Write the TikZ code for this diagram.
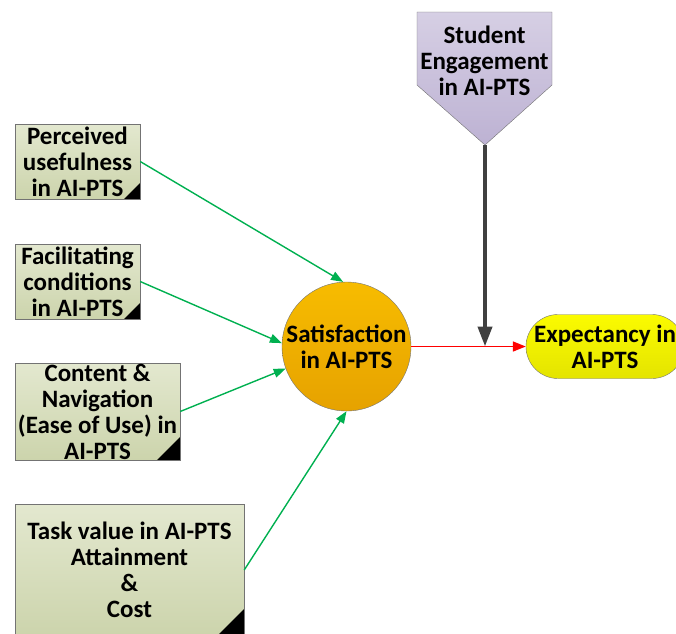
\documentclass[tikz,border=0pt]{standalone}
\usepackage{fontspec}
\setmainfont{Carlito}
\usetikzlibrary{arrows.meta}
\definecolor{boxtop}{HTML}{E3E8CF}
\definecolor{boxbot}{HTML}{CCD4AC}
\definecolor{sattop}{HTML}{F7BC00}
\definecolor{satbot}{HTML}{E6A200}
\definecolor{exptop}{HTML}{FBFB00}
\definecolor{expbot}{HTML}{E4E400}
\definecolor{engtop}{HTML}{D6CFE4}
\definecolor{engbot}{HTML}{BDB2D3}
\definecolor{linkgreen}{HTML}{00B050}
\begin{document}
\begin{tikzpicture}[x=1pt,y=-1pt,
    font=\fontsize{25}{26}\selectfont\bfseries,
    factor/.style={draw=black!55,top color=boxtop,bottom color=boxbot,align=center,inner sep=0pt,
      path picture={\fill (path picture bounding box.south east) -- ++(-#1,0pt) -- ++(#1,#1) -- cycle;}},
    link/.style={-{Triangle[length=12pt,width=9pt]},draw=linkgreen,line width=1.4pt},
    result/.style={-{Triangle[length=13pt,width=10pt]},draw=red,line width=1.6pt},
    push/.style={-{Triangle[length=20pt,width=14pt]},draw=black!75,line width=4pt}]
  \useasboundingbox (0,0) rectangle (676,633);
  % predictors
  \node[factor=16pt,minimum width=125pt,minimum height=75pt] (useful) at (77.5,161.5) {Perceived\\usefulness\\in AI-PTS};
  \node[factor=16pt,minimum width=125pt,minimum height=75pt] (facil) at (77.5,281.5) {Facilitating\\conditions\\in AI-PTS};
  \node[factor=23pt,minimum width=165pt,minimum height=97pt] (content) at (97.5,411.5) {Content \&\\Navigation\\(Ease of Use) in\\AI-PTS};
  \node[factor=27pt,minimum width=229pt,minimum height=132pt] (task) at (129.5,570) {Task value in AI-PTS\\Attainment\\\&\\Cost};
  % mediator and outcome
  \node[circle,draw=black!55,top color=sattop,bottom color=satbot,minimum size=129pt,inner sep=0pt,align=center] (satis) at (346.5,346.5) {Satisfaction\\in AI-PTS};
  \node[rounded corners=32pt,draw=black!55,top color=exptop,bottom color=expbot,minimum width=158pt,minimum height=64pt,align=center] (expect) at (605,346.5) {Expectancy in\\AI-PTS};
  % moderator
  \coordinate (engtip) at (485,145);
  \draw[draw=black!55,top color=engtop,bottom color=engbot] (417,12) -- (552,12) -- (552,85) -- (engtip) -- (417,85) -- cycle;
  \node[align=center] (engage) at (484.5,61) {Student\\Engagement\\in AI-PTS};
  \coordinate (join) at (engtip |- satis.east);

  \draw[link] (useful.east) -- (satis.93);
  \draw[link] (facil.east) -- (satis.177);
  \draw[link] (content.east) -- (satis.200);
  \draw[link] (task.east) -- (satis.270);
  \draw[result] (satis.east) -- (expect.west);
  \draw[push] (engtip) -- (join);
\end{tikzpicture}
\end{document}
